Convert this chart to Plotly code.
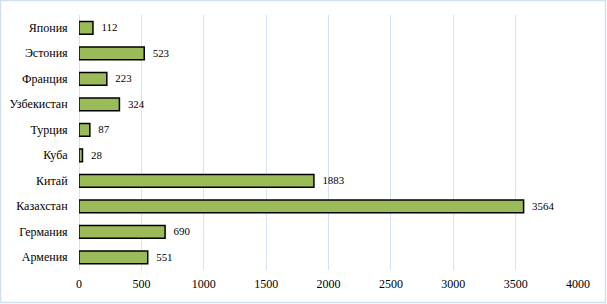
import plotly.graph_objects as go

countries = ["Армения", "Германия", "Казахстан", "Китай", "Куба", "Турция",
             "Узбекистан", "Франция", "Эстония", "Япония"]
values = [551, 690, 3564, 1883, 28, 87, 324, 223, 523, 112]
x_ticks = [0, 500, 1000, 1500, 2000, 2500, 3000, 3500, 4000]

W, H = 607, 304
L, R, T, B = 79, 29, 15, 34
pw, ph = W - L - R, H - T - B
FONT = "Times New Roman"

fig = go.Figure(go.Bar(
    y=countries, x=values, orientation="h",
    marker=dict(color="#9BBB59", line=dict(color="#000000", width=1.5)),
    text=["\u2002" + str(v) for v in values], textposition="outside",
    textfont=dict(family=FONT, size=12, color="#000000"),
    cliponaxis=False, width=0.5,
))

border_col = "#D3DFF0"
fig.add_shape(type="rect", xref="paper", yref="paper",
              x0=(0.5 - L) / pw, x1=(W - 1.5 - L) / pw,
              y0=-(H - 1.5 - T - ph) / ph, y1=1 + (T - 0.5) / ph,
              line=dict(color=border_col, width=1.5), layer="below")

fig.update_layout(
    width=W, height=H,
    margin=dict(l=L, r=R, t=T, b=B, autoexpand=False),
    paper_bgcolor="white", plot_bgcolor="white",
    showlegend=False,
    font=dict(family=FONT, size=12, color="#000000"),
    xaxis=dict(range=[0, 4000], tickvals=x_ticks, showgrid=True,
               gridcolor="#D6E2F3", gridwidth=1, zeroline=True,
               zerolinecolor="#D6E2F3", zerolinewidth=1, ticks="outside",
               ticklen=3, tickcolor="rgba(0,0,0,0)",
               showline=False, fixedrange=True, automargin=False),
    yaxis=dict(categoryorder="array", categoryarray=countries,
               showgrid=False, ticks="outside", ticklen=8,
               tickcolor="rgba(0,0,0,0)", showline=False, fixedrange=True,
               automargin=False),
)

fig.write_html("out.html", config={"displayModeBar": False},
               post_script="document.body.style.margin='0';document.body.style.overflow='hidden';")
